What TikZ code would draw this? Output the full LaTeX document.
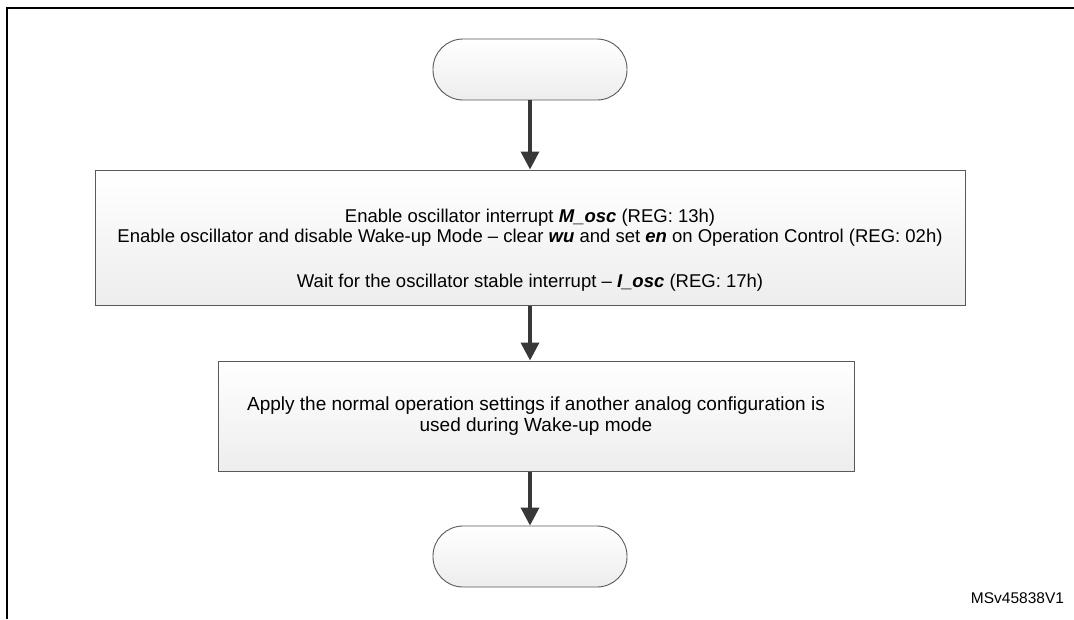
\documentclass[tikz,border=0pt]{standalone}
\usepackage{fontspec}
\setmainfont{Liberation Sans}
\usetikzlibrary{arrows.meta}
\begin{document}
\begin{tikzpicture}[x=1pt,y=-1pt,
  terminal/.style={draw=black!65, line width=0.9pt, rounded corners=30pt,
    top color=white, bottom color=black!7, minimum width=194pt,
    minimum height=61pt, inner sep=0pt},
  procbox/.style={draw=black!65, line width=1pt, top color=white,
    bottom color=black!7, inner sep=0pt},
  boxtext/.style={align=center, inner sep=0pt,
    font=\fontsize{18.5}{20}\selectfont},
  flow/.style={draw=black!78, line width=3.5pt,
    -{Triangle[length=18pt,width=18pt]}},
  frameline/.style={draw=black, line width=2.5pt}]
\useasboundingbox (0,0) rectangle (1074,619);
\draw[frameline] (7,619) -- (7,8) -- (1074,8);

\node[terminal] (start) at (530,69.5) {};
\node[procbox, minimum width=870pt, minimum height=135pt] (b1) at (530,237.5) {};
\node[boxtext] (t1) at (530,250.5) {Enable oscillator interrupt \textbf{\textit{M\_osc}} (REG: 13h)\\
Enable oscillator and disable Wake-up Mode -- clear \textbf{\textit{wu}} and set \textbf{\textit{en}} on Operation Control (REG: 02h)\\[25pt]
Wait for the oscillator stable interrupt -- \textbf{\textit{I\_osc}} (REG: 17h)};
\node[procbox, minimum width=636pt, minimum height=110pt] (b2) at (536,416) {};
\node[boxtext, font=\fontsize{19}{21}\selectfont] (t2) at (536,416.5) {Apply the normal operation settings if another analog configuration is\\
used during Wake-up mode};
\node[terminal] (end) at (530,556.5) {};

\draw[flow] (start.south) -- (start.south |- b1.north);
\draw[flow] (start.south |- b1.south) -- (start.south |- b2.north);
\draw[flow] (end.north |- b2.south) -- (end.north);

\node[font=\fontsize{15.5}{18}\selectfont, inner sep=0pt] (id) at (1017.5,598) {MSv45838V1};
\end{tikzpicture}
\end{document}
